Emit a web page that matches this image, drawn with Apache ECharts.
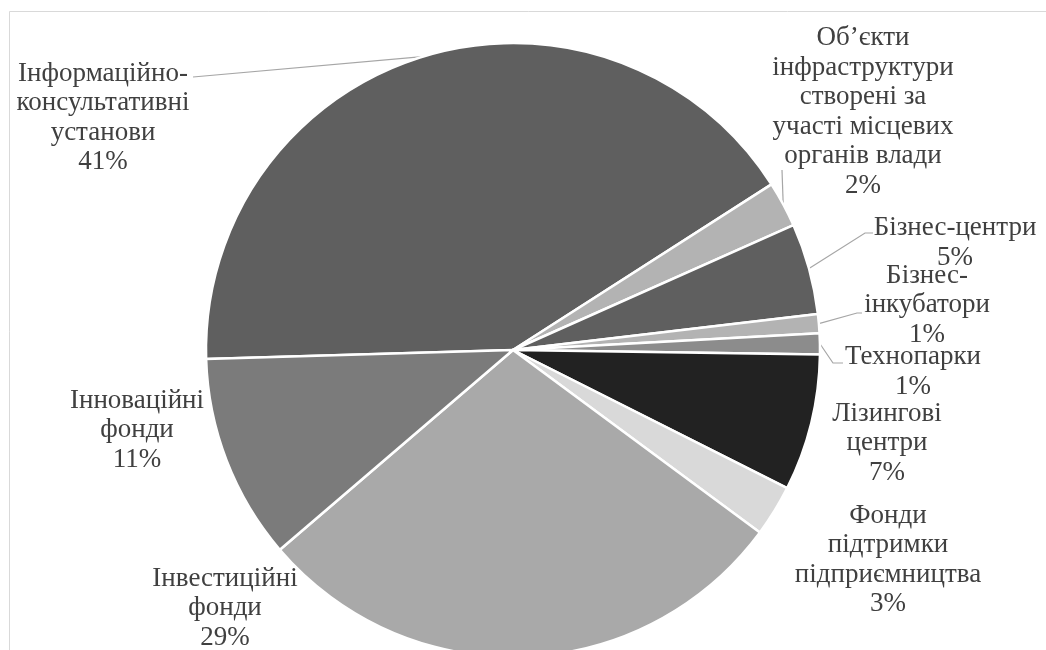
<!DOCTYPE html>
<html><head><meta charset="utf-8">
<script src="https://cdn.jsdelivr.net/npm/echarts/dist/echarts.min.js"></script>
<style>html,body{margin:0;padding:0;background:#fff}#c{width:1046px;height:650px}</style>
</head><body><div id="c"></div>
<script>
const categories = [
  'Інформаційно-\nконсультативні\nустанови',
  'Об’єкти\nінфраструктури\nстворені за\nучасті місцевих\nорганів влади',
  'Бізнес-центри',
  'Бізнес-\nінкубатори',
  'Технопарки',
  'Лізингові\nцентри',
  'Фонди\nпідтримки\nпідприємництва',
  'Інвестиційні\nфонди',
  'Інноваційні\nфонди'
];
const values = [41.4, 2.4, 4.8, 1.0, 1.1, 7.2, 2.7, 28.6, 10.8];
const colors = ['#5f5f5f', '#b3b3b3', '#5f5f5f', '#b3b3b3', '#8c8c8c', '#222222', '#d9d9d9', '#a9a9a9', '#7b7b7b'];

// label block centres and leader-line bends (layout only)
const labelSpec = [
  {x: 103, y: 118, line: [[193, 77]]},
  {x: 863, y: 112, line: [[782, 170]]},
  {x: 955, y: 243, line: [[865, 233], [873, 233]]},
  {x: 927, y: 305, line: [[857, 313], [862, 313]]},
  {x: 913, y: 372, line: [[833, 363], [843, 363]]},
  {x: 887, y: 443, line: null},
  {x: 888, y: 560, line: null},
  {x: 225, y: 608, line: null},
  {x: 137, y: 430, line: null}
];

const chart = echarts.init(document.getElementById('c'), null, {renderer: 'canvas'});
const data = categories.map((n, i) => ({
  name: n, value: values[i],
  itemStyle: {color: colors[i]},
  labelLine: {show: !!labelSpec[i].line}
}));

chart.setOption({
  backgroundColor: '#ffffff',
  animation: false,
  graphic: [{
    type: 'rect', silent: true,
    shape: {x: 9.5, y: 11.5, width: 1100, height: 700},
    style: {fill: 'none', stroke: '#d9d9d9', lineWidth: 1}
  }],
  series: [{
    type: 'pie',
    center: [513, 350],
    radius: [0, 307],
    startAngle: 181.7,
    clockwise: true,
    avoidLabelOverlap: false,
    itemStyle: {borderColor: '#ffffff', borderWidth: 2.5},
    label: {
      show: true,
      position: 'outside',
      fontFamily: '"Liberation Serif", "Times New Roman", serif',
      fontSize: 27,
      lineHeight: 29.5,
      color: '#404040',
      align: 'center',
      formatter: p => p.name + '\n' + Math.round(p.percent) + '%'
    },
    labelLine: {lineStyle: {color: '#a6a6a6', width: 1.2}, length: 10, length2: 10},
    labelLayout: function (params) {
      const s = labelSpec[params.dataIndex];
      const res = {x: s.x, y: s.y, align: 'center', verticalAlign: 'middle'};
      if (s.line && params.labelLinePoints) {
        res.labelLinePoints = [params.labelLinePoints[0]].concat(s.line);
      }
      return res;
    },
    data: data
  }]
});
</script>
</body></html>
